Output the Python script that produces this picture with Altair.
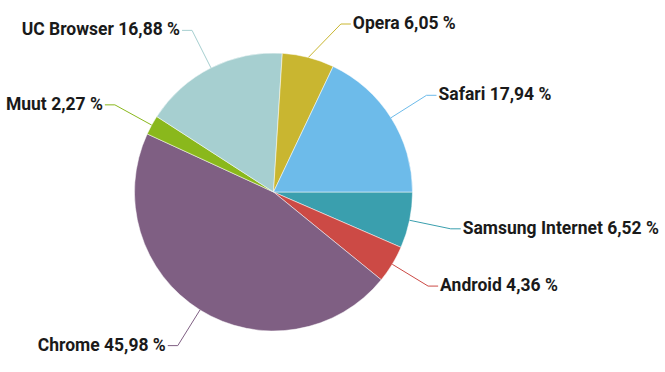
import altair as alt
import pandas as pd

browsers = ["Samsung Internet", "Android", "Chrome", "Muut", "UC Browser", "Opera", "Safari"]
shares = [6.52, 4.36, 45.98, 2.27, 16.88, 6.05, 17.94]
labels = ["6,52 %", "4,36 %", "45,98 %", "2,27 %", "16,88 %", "6,05 %", "17,94 %"]
colors = ["#3a9fae", "#cc4a45", "#7f5f83", "#8ab81c", "#a6cfd0", "#c9b630", "#6dbbea"]

df = pd.DataFrame({
    "browser": browsers,
    "share": shares,
    "label": [f"{b} {l}" for b, l in zip(browsers, labels)],
    "order": list(range(len(browsers))),
})

CX, CY, R, RL = 273.5, 192, 139, 181
PI = 3.141592653589793

base = alt.Chart(df).transform_window(
    cum="sum(share)", sort=[alt.SortField("order")], frame=[None, 0]
).transform_calculate(
    a0=f"{PI}/2 + 2*{PI}*(datum.cum - datum.share)/100",
    a1=f"{PI}/2 + 2*{PI}*datum.cum/100",
).transform_calculate(
    m="(datum.a0 + datum.a1)/2"
).transform_calculate(
    s="sin(datum.m) >= 0 ? 1 : -1",
    ex=f"{CX} + {R}*sin(datum.m)",
    ey=f"{CY} - {R}*cos(datum.m)",
    ly=f"max({CY} - {RL}*cos(datum.m), 24)",
).transform_calculate(
    lx=f"{CX} + datum.s*sqrt({RL}*{RL} - (datum.ly-{CY})*(datum.ly-{CY}))",
).transform_calculate(
    hx="datum.lx + datum.s*10",
    tx="datum.lx + datum.s*12",
)

cscale = alt.Scale(domain=browsers, range=colors)

arcs = base.mark_arc(radius=R, stroke="#ffffff", strokeWidth=0.5).encode(
    x=alt.value(CX),
    y=alt.value(CY),
    theta=alt.Theta("a0:Q", scale=None),
    theta2="a1:Q",
    color=alt.Color("browser:N", scale=cscale, legend=None),
)

seg1 = base.mark_rule(strokeWidth=1).encode(
    x=alt.X("ex:Q", scale=None), y=alt.Y("ey:Q", scale=None),
    x2="lx:Q", y2="ly:Q",
    color=alt.Color("browser:N", scale=cscale, legend=None),
)
seg2 = base.mark_rule(strokeWidth=1).encode(
    x=alt.X("lx:Q", scale=None), y=alt.Y("ly:Q", scale=None),
    x2="hx:Q", y2="ly:Q",
    color=alt.Color("browser:N", scale=cscale, legend=None),
)

FS = 17.5
txt_r = base.transform_filter("datum.s > 0").mark_text(
    align="left", baseline="middle", font="Roboto", fontSize=FS, fontWeight="bold", color="#1a1a1a"
).encode(x=alt.X("tx:Q", scale=None), y=alt.Y("ly:Q", scale=None), text="label:N")
txt_l = base.transform_filter("datum.s < 0").mark_text(
    align="right", baseline="middle", font="Roboto", fontSize=FS, fontWeight="bold", color="#1a1a1a"
).encode(x=alt.X("tx:Q", scale=None), y=alt.Y("ly:Q", scale=None), text="label:N")

chart = alt.layer(arcs, seg1, seg2, txt_r, txt_l).properties(
    width=665, height=372, padding=0, autosize=alt.AutoSizeParams(type="none")
).configure_view(stroke=None)

chart.save("out.html", embed_options={"renderer": "svg", "actions": False})
